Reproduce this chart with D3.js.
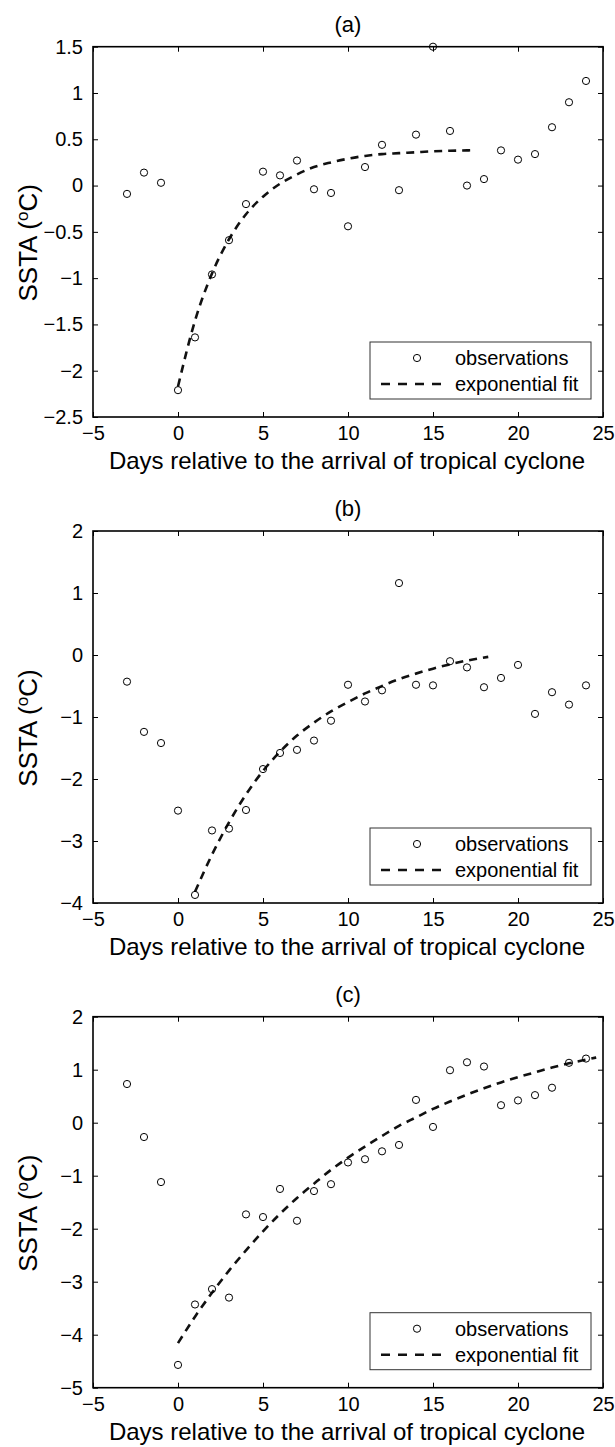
<!DOCTYPE html>
<html><head><meta charset="utf-8">
<script src="https://cdn.jsdelivr.net/npm/d3@7"></script>
<style>
body{margin:0;background:#fff}
svg{display:block}
text{font-family:"Liberation Sans",Arial,Helvetica,sans-serif;fill:#000}
</style>
</head><body>
<svg id="chart" width="615" height="1447"></svg>
<script>
// ---------- data ----------
const days = [-3,-2,-1,0,1,2,3,4,5,6,7,8,9,10,11,12,13,14,15,16,17,18,19,20,21,22,23,24];

const obsA = [-0.09,0.14,0.03,-2.21,-1.64,-0.96,-0.59,-0.20,0.15,0.11,0.27,-0.04,-0.08,-0.44,0.20,0.44,-0.05,0.55,1.50,0.59,0.00,0.07,0.38,0.28,0.34,0.63,0.90,1.13];
const obsB = [-0.43,-1.24,-1.42,-2.51,-3.87,-2.83,-2.80,-2.50,-1.84,-1.58,-1.53,-1.38,-1.06,-0.48,-0.75,-0.57,1.16,-0.48,-0.49,-0.10,-0.20,-0.52,-0.37,-0.16,-0.95,-0.60,-0.80,-0.49];
const obsC = [0.73,-0.27,-1.12,-4.57,-3.43,-3.14,-3.30,-1.73,-1.78,-1.25,-1.85,-1.29,-1.16,-0.75,-0.69,-0.54,-0.42,0.43,-0.08,0.99,1.14,1.06,0.33,0.42,0.52,0.66,1.13,1.21];

const fitDaysA = [0,1,2,3,4,5,6,7,8,9,10,11,12,13,14,15,16,17,17.2];
const fitA = [-2.17,-1.46,-0.95,-0.58,-0.31,-0.12,0.02,0.12,0.20,0.25,0.29,0.32,0.34,0.35,0.36,0.37,0.376,0.38,0.381];

const fitDaysB = [1,2,3,4,5,6,7,8,9,10,11,12,13,14,15,16,17,18.25];
const fitB = [-3.82,-3.22,-2.70,-2.25,-1.87,-1.56,-1.30,-1.09,-0.91,-0.76,-0.62,-0.50,-0.39,-0.30,-0.22,-0.15,-0.09,-0.03];

const fitDaysC = [0,1,2,3,4,5,6,7,8,9,10,11,12,13,14,15,16,17,18,19,20,21,22,23,24,24.6];
const fitC = [-4.16,-3.66,-3.21,-2.79,-2.41,-2.05,-1.72,-1.42,-1.15,-0.89,-0.66,-0.45,-0.25,-0.06,0.10,0.26,0.40,0.53,0.65,0.76,0.86,0.95,1.04,1.12,1.19,1.23];

const xTicks = [-5,0,5,10,15,20,25];
const xTickLabels = ["\u22125","0","5","10","15","20","25"];
const yTicksA = [-2.5,-2,-1.5,-1,-0.5,0,0.5,1,1.5];
const yTickLabelsA = ["\u22122.5","\u22122","\u22121.5","\u22121","\u22120.5","0","0.5","1","1.5"];
const yTicksB = [-4,-3,-2,-1,0,1,2];
const yTickLabelsB = ["\u22124","\u22123","\u22122","\u22121","0","1","2"];
const yTicksC = [-5,-4,-3,-2,-1,0,1,2];
const yTickLabelsC = ["\u22125","\u22124","\u22123","\u22122","\u22121","0","1","2"];

const panelTitles = ["(a)","(b)","(c)"];
const legendLabels = ["observations","exponential fit"];
const xLabel = "Days relative to the arrival of tropical cyclone";

// ---------- layout ----------
const svg = d3.select("#chart");
const L = 93, R = 603;
const panels = [
  {title:panelTitles[0], top:46.7, bottom:417, dom:[-2.5,1.5], ticks:yTicksA, tl:yTickLabelsA, obs:obsA, fx:fitDaysA, fy:fitA},
  {title:panelTitles[1], top:531, bottom:903, dom:[-4,2], ticks:yTicksB, tl:yTickLabelsB, obs:obsB, fx:fitDaysB, fy:fitB},
  {title:panelTitles[2], top:1016.7, bottom:1387.7, dom:[-5,2], ticks:yTicksC, tl:yTickLabelsC, obs:obsC, fx:fitDaysC, fy:fitC}
];

const x = d3.scaleLinear().domain([-5,25]).range([L,R]);

panels.forEach(p => {
  const y = d3.scaleLinear().domain(p.dom).range([p.bottom,p.top]);
  const g = svg.append("g");

  // axes
  const xb = g.append("g").attr("transform",`translate(0,${p.bottom})`)
    .call(d3.axisBottom(x).tickValues(xTicks).tickSize(-5).tickSizeOuter(0).tickPadding(9)
      .tickFormat((d,i)=>xTickLabels[i]));
  const xt = g.append("g").attr("transform",`translate(0,${p.top})`)
    .call(d3.axisTop(x).tickValues(xTicks).tickSize(-5).tickSizeOuter(0).tickFormat(""));
  const yl = g.append("g").attr("transform",`translate(${L},0)`)
    .call(d3.axisLeft(y).tickValues(p.ticks).tickSize(-5).tickSizeOuter(0).tickPadding(10)
      .tickFormat((d,i)=>p.tl[i]));
  const yr = g.append("g").attr("transform",`translate(${R},0)`)
    .call(d3.axisRight(y).tickValues(p.ticks).tickSize(-5).tickSizeOuter(0).tickFormat(""));
  [xb,xt,yl,yr].forEach(a=>{
    a.select(".domain").remove();
    a.selectAll(".tick line").attr("stroke","#000").attr("stroke-width",1);
    a.selectAll("text").attr("font-size",20).attr("fill","#000")
      .attr("font-family",'"Liberation Sans",Arial,sans-serif');
  });

  // box
  g.append("rect").attr("x",L).attr("y",p.top).attr("width",R-L).attr("height",p.bottom-p.top)
    .attr("fill","none").attr("stroke","#000").attr("stroke-width",1.6);

  // fit line
  const line = d3.line().x(d=>x(d[0])).y(d=>y(d[1])).curve(d3.curveMonotoneX);
  g.append("path").datum(p.fx.map((d,i)=>[d,p.fy[i]]))
    .attr("d",line).attr("fill","none").attr("stroke","#111")
    .attr("stroke-width",2.6).attr("stroke-dasharray","8,6");

  // observations
  g.selectAll("circle.obs").data(days.map((d,i)=>[d,p.obs[i]])).enter()
    .append("circle").attr("class","obs")
    .attr("cx",d=>x(d[0])).attr("cy",d=>y(d[1])).attr("r",3.6)
    .attr("fill","none").attr("stroke","#000").attr("stroke-width",1);

  // title
  g.append("text").attr("x",(L+R)/2).attr("y",p.top-15).attr("text-anchor","middle")
    .attr("font-size",22).text(p.title);

  // x label
  g.append("text").attr("x",(L+R)/2 - 1).attr("y",p.bottom+52).attr("text-anchor","middle")
    .attr("font-size",24).text(xLabel);

  // y label
  const cy = (p.top+p.bottom)/2 + 11;
  const yt = g.append("text").attr("transform",`translate(37,${cy}) rotate(-90)`)
    .attr("text-anchor","middle").attr("font-size",26);
  yt.append("tspan").text("SSTA (");
  yt.append("tspan").attr("font-size",17).attr("dy",-9).text("o");
  yt.append("tspan").attr("dy",9).text("C)");

  // legend
  const lb = p.bottom-18, lt = lb-57, lr = R-12, ll = 370;
  const lg = g.append("g");
  lg.append("rect").attr("x",ll).attr("y",lt).attr("width",lr-ll).attr("height",lb-lt)
    .attr("fill","#fff").attr("stroke","#333").attr("stroke-width",1);
  lg.append("circle").attr("cx",417).attr("cy",lt+16).attr("r",3.6)
    .attr("fill","none").attr("stroke","#000").attr("stroke-width",1);
  lg.append("line").attr("x1",381).attr("x2",442).attr("y1",lt+42).attr("y2",lt+42)
    .attr("stroke","#111").attr("stroke-width",2.6).attr("stroke-dasharray","9,8");
  lg.append("text").attr("x",455).attr("y",lt+16+7).attr("font-size",20).text(legendLabels[0]);
  lg.append("text").attr("x",455).attr("y",lt+42+7).attr("font-size",20).text(legendLabels[1]);
});
</script>
</body></html>
